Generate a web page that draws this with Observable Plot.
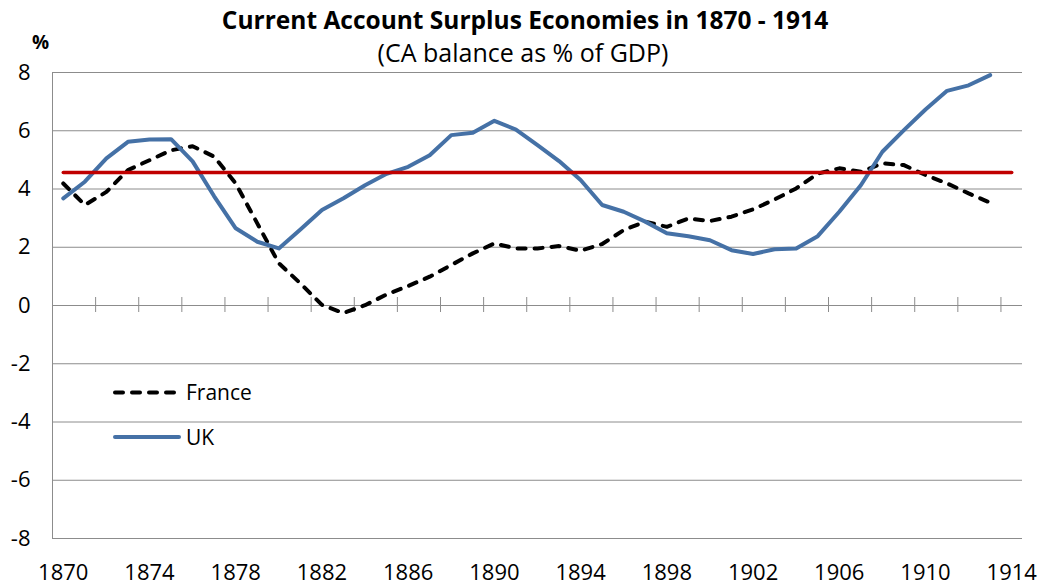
<!DOCTYPE html>
<html><head><meta charset="utf-8">
<script src="https://cdn.jsdelivr.net/npm/d3@7"></script>
<script src="https://cdn.jsdelivr.net/npm/@observablehq/plot@0.6"></script>
<style>
body{margin:0;background:#fff;font-family:"Open Sans",sans-serif;}
#wrap{position:relative;width:1042px;height:586px;overflow:hidden;}
.ov{position:absolute;white-space:nowrap;line-height:1;color:#000;}
#title{left:0;width:1050px;top:8px;text-align:center;font-weight:bold;font-size:24.5px;}
#subtitle{left:0;width:1046px;top:39.5px;text-align:center;font-size:25px;}
#pct{left:32px;top:33px;font-weight:bold;font-size:19px;}
#legend{position:absolute;left:0;top:0;}
</style></head>
<body><div id="wrap">
<div id="chart"></div>
<div class="ov" id="title">Current Account  Surplus Economies in 1870 - 1914</div>
<div class="ov" id="subtitle">(CA balance as % of GDP)</div>
<div class="ov" id="pct">%</div>
</div>
<script>
const years = [1870,1871,1872,1873,1874,1875,1876,1877,1878,1879,1880,1881,1882,1883,1884,1885,1886,1887,1888,1889,1890,1891,1892,1893,1894,1895,1896,1897,1898,1899,1900,1901,1902,1903,1904,1905,1906,1907,1908,1909,1910,1911,1912,1913];
const franceValues = [4.19,3.45,3.90,4.65,4.99,5.33,5.47,5.11,4.19,2.82,1.45,0.76,0.02,-0.26,0.01,0.38,0.67,0.99,1.39,1.79,2.13,1.96,1.96,2.04,1.88,2.11,2.59,2.88,2.70,2.99,2.90,3.05,3.30,3.64,4.02,4.53,4.71,4.59,4.88,4.82,4.48,4.19,3.85,3.53];
const ukValues = [3.68,4.25,5.05,5.62,5.70,5.71,4.95,3.75,2.65,2.19,1.96,2.61,3.28,3.68,4.13,4.52,4.76,5.16,5.85,5.93,6.34,6.04,5.51,4.96,4.31,3.45,3.22,2.88,2.48,2.38,2.24,1.90,1.77,1.93,1.96,2.38,3.22,4.13,5.28,6.02,6.73,7.37,7.56,7.91];
const averageYears = [1870, 1914];
const averageValue = 4.57;
const xTickLabels = [1870,1874,1878,1882,1886,1890,1894,1898,1902,1906,1910,1914];
const yTickValues = [-8,-6,-4,-2,0,2,4,6,8];
const xTickMarks = d3.range(1871.5, 1914, 2); // category boundaries every 2 years

const france = years.map((y,i)=>({year:y, value:franceValues[i]}));
const uk = years.map((y,i)=>({year:y, value:ukValues[i]}));
const avg = averageYears.map(y=>({year:y, value:averageValue}));

const grid = "#8c8c8c";
const ukColor = "#4571a6";

const chart = Plot.plot({
  width:1042, height:586,
  marginLeft:52, marginRight:20, marginTop:72, marginBottom:48,
  style:{fontFamily:"Open Sans", fontSize:"22px", color:"#000", background:"transparent", overflow:"visible"},
  x:{domain:[1869.5,1914.5], axis:null},
  y:{domain:[-8,8], axis:null},
  marks:[
    Plot.gridY(yTickValues, {stroke:grid, strokeOpacity:1, strokeWidth:1}),
    Plot.ruleX([1869.5], {stroke:grid, strokeWidth:1}),
    Plot.ruleY([0], {stroke:grid, strokeWidth:1}),
    Plot.ruleX(xTickMarks, {x:d=>d, y1:0, y2:0, insetTop:-8, insetBottom:-7, stroke:grid, strokeWidth:1}),
    Plot.axisY(yTickValues, {tickSize:0, tickPadding:22, fontSize:22, label:null, tickFormat:d=>String(d)}),
    Plot.axisX(xTickLabels, {anchor:"bottom", tickSize:0, tickPadding:26, fontSize:22, label:null, tickFormat:d=>String(d)}),
    Plot.line(france, {x:"year", y:"value", stroke:"#000", strokeWidth:4, strokeDasharray:"8,9", strokeLinecap:"round", strokeLinejoin:"round"}),
    Plot.line(uk, {x:"year", y:"value", stroke:ukColor, strokeWidth:4, strokeLinejoin:"round"}),
    Plot.line(avg, {x:"year", y:"value", stroke:"#c00000", strokeWidth:3.5})
  ]
});
document.getElementById("chart").appendChild(chart);

// legend overlay
const wrap = d3.select("#wrap");
const leg = wrap.append("svg").attr("id","legend").attr("width",1042).attr("height",586)
  .style("position","absolute").style("left","0px").style("top","0px").style("pointer-events","none");
const items = [
  {name:"France", stroke:"#000", dash:"8,9", cap:"round", y:392.5},
  {name:"UK", stroke:ukColor, dash:null, cap:"round", y:437}
];
items.forEach(it=>{
  leg.append("line").attr("x1",115).attr("x2",179).attr("y1",it.y).attr("y2",it.y)
    .attr("stroke",it.stroke).attr("stroke-width",4).attr("stroke-linecap",it.cap)
    .attr("stroke-dasharray",it.dash);
  leg.append("text").attr("x",186).attr("y",it.y+7.5).attr("font-family","Open Sans")
    .attr("font-size",21).attr("fill","#000").text(it.name);
});
</script>
</body></html>
